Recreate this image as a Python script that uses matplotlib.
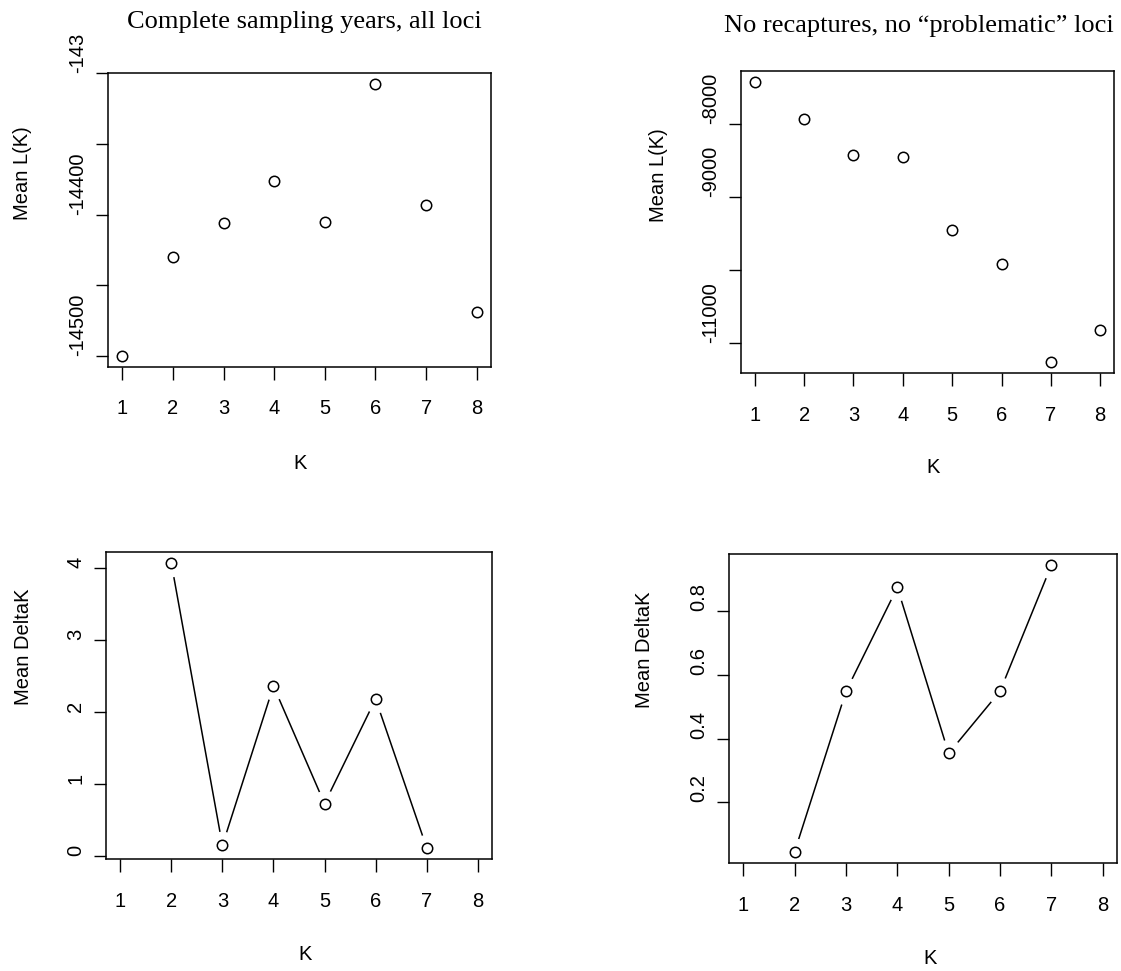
import numpy as np
import matplotlib
matplotlib.use("Agg")
import matplotlib.pyplot as plt

plt.rcParams['font.family'] = ['Liberation Sans', 'DejaVu Sans']

# data
k = [1, 2, 3, 4, 5, 6, 7, 8]
lk_all = [-14500, -14430, -14406, -14376, -14405, -14308, -14393, -14469]
lk_norecap = [-7425, -7932, -8425, -8452, -9452, -9918, -11260, -10822]
dk_k = [2, 3, 4, 5, 6, 7]
dk_all = [4.06, 0.15, 2.36, 0.73, 2.18, 0.12]
dk_norecap = [0.046, 0.549, 0.875, 0.354, 0.549, 0.944]

yt_all = [-14500, -14450, -14400, -14350, -14300]
yl_all = ["-14500", "", "-14400", "", "-143"]
yt_norecap = [-11000, -10000, -9000, -8000]
yl_norecap = ["-11000", "", "-9000", "-8000"]
yt_dk_all = [0, 1, 2, 3, 4]
yl_dk_all = ["0", "1", "2", "3", "4"]
yt_dk_norecap = [0.2, 0.4, 0.6, 0.8]
yl_dk_norecap = ["0.2", "0.4", "0.6", "0.8"]

W, H = 1121, 971
fig = plt.figure(figsize=(W / 100, H / 100), dpi=100)
fs = 14.5


def px_axes(x0, y0, x1, y1):
    return fig.add_axes([x0 / W, 1 - y1 / H, (x1 - x0) / W, (y1 - y0) / H])


def rlim(vals):
    lo, hi = min(vals), max(vals)
    d = (hi - lo) * 0.04
    return lo - d, hi + d


def style(ax, yt, yl, xpad=15):
    ax.set_xlim(rlim(k))
    ax.set_xticks(k)
    ax.set_xticklabels([str(v) for v in k])
    ax.set_yticks(yt)
    ax.set_yticklabels(yl)
    for s in ax.spines.values():
        s.set_linewidth(1.1)
    ax.tick_params(direction='out', length=9, width=1.0, labelsize=fs)
    ax.tick_params(axis='x', pad=xpad)
    ax.tick_params(axis='y', pad=6)
    for lab in ax.get_yticklabels():
        lab.set_rotation(90)
        lab.set_va('bottom')
        lab.set_ha('right')


def pts(ax, x, y):
    ax.plot(x, y, linestyle='none', marker='o', ms=7.5, mfc='none', mec='black', mew=1.1, zorder=3)


def label(x, y, s, rot=0, va='center'):
    fig.text(x / W, 1 - y / H, s, fontsize=fs, rotation=rot, ha='center', va=va)


# top left
ax1 = px_axes(108, 73, 491, 367)
pts(ax1, k, lk_all)
ax1.set_ylim(rlim(lk_all))
style(ax1, yt_all, yl_all, xpad=14)
fig.text(304 / W, 1 - 22 / H, "Complete sampling years, all loci", fontsize=19,
         family='Liberation Serif', ha='center', va='center')
label(23, 220, "Mean L(K)", 90, 'bottom')
label(300, 463, "K")

# top right
ax2 = px_axes(741, 71, 1114, 373)
pts(ax2, k, lk_norecap)
ax2.set_ylim(rlim(lk_norecap))
style(ax2, yt_norecap, yl_norecap)
fig.text(919 / W, 1 - 26 / H, "No recaptures, no \u201cproblematic\u201d loci", fontsize=19,
         family='Liberation Serif', ha='center', va='center')
label(658, 222, "Mean L(K)", 90, 'bottom')
label(933, 467, "K")


def bline(ax, x, y):
    ax.plot(x, y, color='black', lw=1.1, zorder=1)
    ax.plot(x, y, linestyle='none', marker='o', ms=20, mfc='white', mec='none', zorder=1.5)
    pts(ax, x, y)


# bottom left
ax3 = px_axes(106, 552, 492, 859)
bline(ax3, dk_k, dk_all)
ax3.set_ylim(rlim(dk_all))
style(ax3, yt_dk_all, yl_dk_all)
label(24, 705, "Mean DeltaK", 90, 'bottom')
label(305, 954, "K")

# bottom right
ax4 = px_axes(729, 554, 1117, 863)
bline(ax4, dk_k, dk_norecap)
ax4.set_ylim(rlim(dk_norecap))
style(ax4, yt_dk_norecap, yl_dk_norecap)
label(645, 708, "Mean DeltaK", 90, 'bottom')
label(930, 958, "K")

fig.savefig("out.png", dpi=100)
